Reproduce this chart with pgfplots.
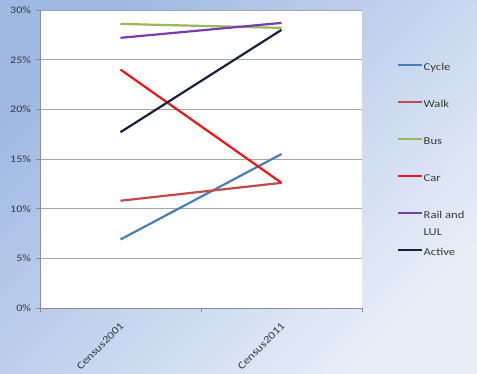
\documentclass[border=0pt]{standalone}
\usepackage{pgfplots}
\pgfplotsset{compat=1.18}
\usepackage{fontspec}
\setmainfont{Carlito}[FakeStretch=1.2]
\definecolor{cyc}{HTML}{4A7EBB}
\definecolor{wlk}{HTML}{BE4B48}
\definecolor{bus}{HTML}{98B954}
\definecolor{car}{HTML}{F01414}
\definecolor{rail}{HTML}{7A3DAA}
\definecolor{act}{HTML}{17233D}
\definecolor{bgA}{HTML}{A0B9E3}
\definecolor{bgB}{HTML}{E8EEF8}
\definecolor{gridc}{HTML}{A6A6A6}
\definecolor{axisc}{HTML}{8C8C8C}
\definecolor{labelc}{HTML}{383838}
\begin{document}
\begin{tikzpicture}[x=1pt,y=1pt]
\useasboundingbox (0,0) rectangle (477,373);
\shade[top color=bgA, bottom color=bgB, shading angle=45] (0,0) rectangle (477,373);
\begin{axis}[
  at={(40pt,65pt)}, anchor=south west,
  scale only axis, width=322pt, height=298pt,
  xmin=-0.5, xmax=1.5, ymin=0, ymax=30,
  axis background/.style={fill=white},
  axis x line*=bottom, axis y line*=left,
  axis line style={axisc, line width=0.8pt},
  xtick={-0.5,0.5,1.5}, xticklabels={},
  extra x ticks={0,1}, extra x tick labels={Census2001,Census2011},
  extra x tick style={major tick length=0pt, grid=none},
  xticklabel style={xshift=4pt, yshift=-14pt, rotate=45, anchor=east, font=\fontsize{10.5}{12}\selectfont, text=labelc},
  ytick={0,5,...,30}, yticklabels={0\%,5\%,10\%,15\%,20\%,25\%,30\%},
  yticklabel style={xshift=-1.5pt, font=\fontsize{10}{12}\selectfont, text=labelc},
  ymajorgrids, grid style={gridc, line width=0.8pt},
  tick align=outside, major tick length=4pt, tick style={axisc, line width=0.8pt},
  every axis plot/.append style={line width=2.2pt, no marks},
  legend image code/.code={\draw[#1,line width=2pt] (0pt,3pt) -- (24pt,3pt);},
  legend cell align=left,
  legend style={at={(axis description cs:1.1087,0.8233)}, anchor=north west,
    draw=none, fill=none, inner sep=0pt, row sep=26.5pt, column sep=0pt,
    font=\fontsize{10.5}{12.5}\selectfont, text=labelc,
    nodes={inner xsep=0.5pt, inner ysep=0pt, text height=8pt, text depth=2.5pt}},
]
\addplot[cyc] coordinates {(0,6.9) (1,15.5)};
\addlegendentry{Cycle}
\addplot[wlk] coordinates {(0,10.8) (1,12.6)};
\addlegendentry{Walk}
\addplot[bus] coordinates {(0,28.6) (1,28.2)};
\addlegendentry{Bus}
\addplot[car] coordinates {(0,24.0) (1,12.6)};
\addlegendentry{Car}
\addplot[rail] coordinates {(0,27.2) (1,28.7)};
\addlegendentry{\begin{tabular}[t]{@{}l@{}}Rail and\\[4pt]LUL\end{tabular}}
\addplot[act] coordinates {(0,17.7) (1,28.0)};
\addlegendentry{Active}
\end{axis}
\end{tikzpicture}
\end{document}
